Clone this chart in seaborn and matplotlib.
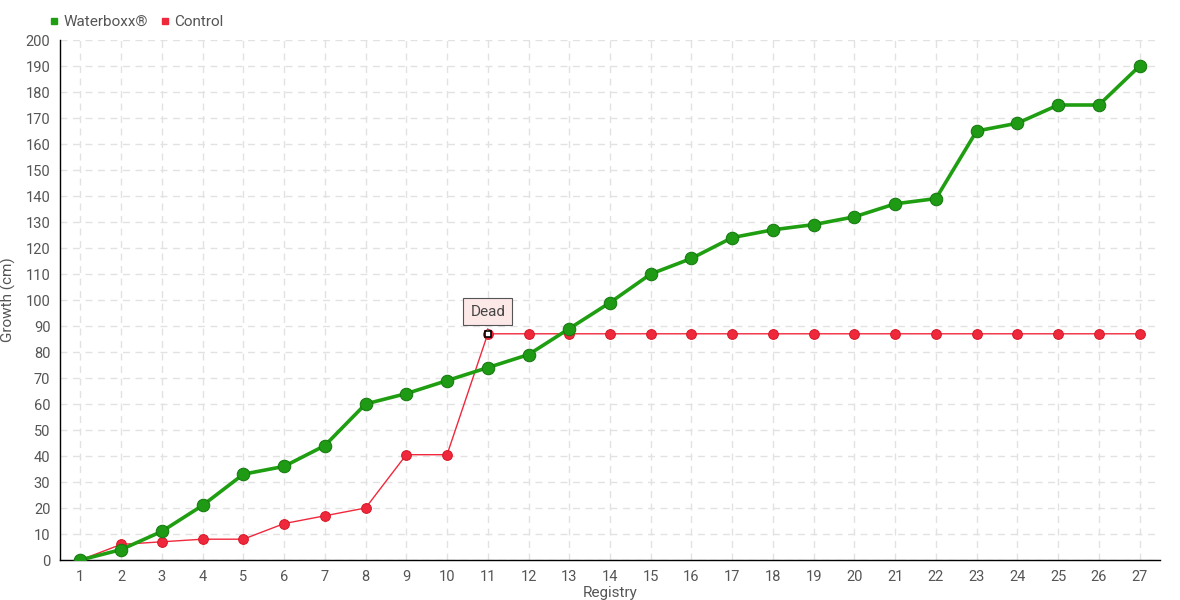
import numpy as np
import pandas as pd
import matplotlib
matplotlib.use("Agg")
import matplotlib.pyplot as plt
import seaborn as sns
from matplotlib.lines import Line2D

# ========================
# Data
# ========================
registry = list(range(1, 28))
waterboxx = [0, 4, 11, 21, 33, 36, 44, 60, 64, 69, 74, 79, 89, 99, 110,
             116, 124, 127, 129, 132, 137, 139, 165, 168, 175, 175, 190]
control = [0, 6, 7, 8, 8, 14, 17, 20, 40.5, 40.5, 87, 87, 87, 87, 87,
           87, 87, 87, 87, 87, 87, 87, 87, 87, 87, 87, 87]
y_ticks = list(range(0, 201, 10))

df = pd.DataFrame({"Registry": registry, "Waterboxx®": waterboxx, "Control": control})

# ========================
# Style
# ========================
sns.set_style("white")
plt.rcParams["font.family"] = ["Roboto", "DejaVu Sans"]
text_col = "#555555"
green = "#1f9e12"
red = "#f0283c"

fig = plt.figure(figsize=(11.8, 6), dpi=100)
ax = fig.add_axes([60 / 1180, 40 / 600, 1100 / 1180, 520 / 600])

sns.lineplot(data=df, x="Registry", y="Control", ax=ax, color=red, linewidth=1,
             marker="o", markersize=7, markeredgecolor="#d81828", markerfacecolor=red, zorder=3)
sns.lineplot(data=df, x="Registry", y="Waterboxx®", ax=ax, color=green, linewidth=2.6,
             marker="o", markersize=9, markeredgecolor="#167a10", markerfacecolor="#1f9a14", zorder=4)

# hovered "Dead" point
dead_x = 11
ax.plot([dead_x], [control[dead_x - 1]], marker="s", markersize=5, markerfacecolor="white",
        markeredgecolor="black", markeredgewidth=1.2, zorder=6)
ax.annotate("Dead", xy=(dead_x, control[dead_x - 1]), xytext=(0, 16), textcoords="offset points",
            ha="center", va="center", fontsize=11, color="#444444",
            bbox=dict(boxstyle="square,pad=0.45", facecolor="#fde8e8", edgecolor="#555555", linewidth=0.8),
            arrowprops=dict(arrowstyle="-", color="#555555", linewidth=0.8),
            zorder=7)

ax.set_xlim(0.5, 27.5)
ax.set_ylim(0, 200)
ax.set_xticks(registry)
ax.set_yticks(y_ticks)
ax.tick_params(axis="both", direction="out", length=4, width=1, color="black",
               labelsize=10.5, labelcolor=text_col, pad=3)
ax.grid(True, color="#e2e2e2", linestyle=(0, (5, 4)), linewidth=1)
ax.set_axisbelow(True)
for side in ["top", "right"]:
    ax.spines[side].set_visible(False)
for side in ["left", "bottom"]:
    ax.spines[side].set_color("black")
    ax.spines[side].set_linewidth(1)

ax.set_xlabel("Registry", fontsize=11, color=text_col, labelpad=2)
ax.set_ylabel("Growth (cm)", fontsize=11, color=text_col)
ax.yaxis.set_label_coords(-44 / 1100, 0.5)

handles = [Line2D([], [], linestyle="none", marker="s", markersize=5, color=green),
           Line2D([], [], linestyle="none", marker="s", markersize=5, color=red)]
fig.legend(handles, ["Waterboxx®", "Control"], loc="center left", bbox_to_anchor=(36 / 1180, 1 - 22 / 600),
           ncol=2, frameon=False, fontsize=11, handlelength=0.6, handletextpad=0.3,
           columnspacing=0.8, labelcolor=text_col)

plt.savefig("out.png", dpi=100)
